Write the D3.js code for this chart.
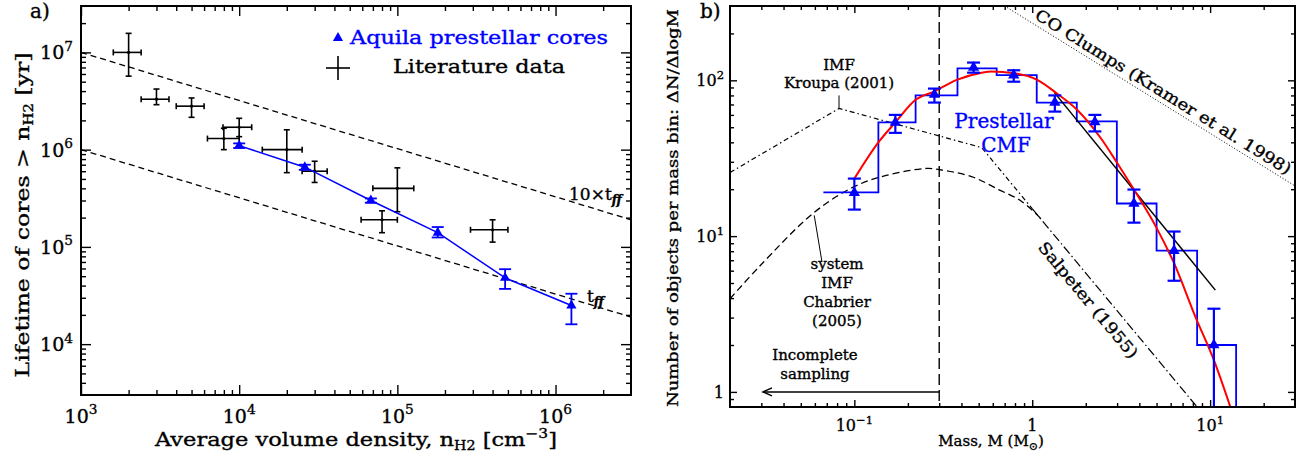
<!DOCTYPE html>
<html>
<head>
<meta charset="utf-8">
<script src="https://cdn.jsdelivr.net/npm/d3@7"></script>
<style>
  body { margin: 0; background: #fff; }
  text { font-family: "DejaVu Serif", serif; stroke-width: 0.35px; }
</style>
</head>
<body>
<svg id="fig" width="1313" height="459"></svg>
<script>
// ---------- panel a: lifetime vs density ----------
const litDensity   = [2e3, 3e3, 5e3, 8e3, 1e4, 2e4, 3e4, 1e5, 8e4, 4e5]
const litDensityLo = [1.6e3, 2.4e3, 4e3, 6.3e3, 7.9e3, 1.4e4, 2.5e4, 7e4, 5.9e4, 2.9e5]
const litDensityHi = [2.4e3, 3.6e3, 6e3, 1e4, 1.2e4, 2.5e4, 3.6e4, 1.27e5, 1e5, 5e5]
const litLife      = [1e7, 3.3e6, 2.8e6, 1.3e6, 1.7e6, 1e6, 6e5, 4e5, 1.9e5, 1.5e5]
const litLifeLo    = [5.7e6, 2.9e6, 2.15e6, 1e6, 1.36e6, 5.8e5, 4.6e5, 2.3e5, 1.4e5, 1.12e5]
const litLifeHi    = [1.57e7, 4.2e6, 3.4e6, 1.66e6, 2.1e6, 1.6e6, 7.6e5, 6.5e5, 2.35e5, 1.9e5]

const aqDensity = [1e4, 2.6e4, 6.8e4, 1.8e5, 4.8e5, 1.26e6]
const aqLife    = [1.1e6, 6.6e5, 3e5, 1.4e5, 4.8e4, 2.5e4]
const aqLifeLo  = [1.04e6, 6.2e5, 2.85e5, 1.25e5, 3.7e4, 1.6e4]
const aqLifeHi  = [1.16e6, 7e5, 3.15e5, 1.6e5, 5.9e4, 3.3e4]

const ffDensity = [1e3, 3e6]
const ffTime    = [1e6, 1.9e4]   // t_ff
const ff10Time  = [1e7, 1.9e5]   // 10 x t_ff

const aXTicks = [[1e3, "10", "3"], [1e4, "10", "4"], [1e5, "10", "5"], [1e6, "10", "6"]]
const aYTicks = [[1e4, "10", "4"], [1e5, "10", "5"], [1e6, "10", "6"], [1e7, "10", "7"]]

// ---------- panel b: mass function ----------
const binEdges  = [0.067, 0.1365, 0.221, 0.38, 0.631, 1.06, 1.78, 2.99, 5.0, 8.45, 14.0, 21]
const binCounts = [19.1, 53.7, 80, 119.5, 108, 72, 54.5, 16.2, 8.07, 2.0, 0]

const cmfMass = [0.1, 0.17, 0.282, 0.468, 0.787, 1.34, 2.25, 3.73, 6.27, 10.5]
const cmfN    = [19, 53.7, 81, 121, 108, 72, 54, 16.2, 8.07, 2.0]
const cmfLo   = [14.8, 46, 72, 112, 98, 63, 47, 12.2, 5.17, 0.8]
const cmfHi   = [23.4, 60, 88.5, 130, 116, 80, 60, 19.9, 10.7, 3.42]

const fitMass = [0.1, 0.1365, 0.17, 0.221, 0.282, 0.38, 0.52, 0.59, 0.79, 1.06, 1.37, 1.78, 2.46, 2.99, 3.73, 5.0, 6.27, 8.3, 10.5, 13]
const fitN    = [23.4, 40, 53.7, 75, 85, 101, 112, 114, 111, 101, 82.7, 65, 41.7, 29.7, 19.9, 11.3, 6.7, 3.0, 1.6, 0.8]

const plawMass = [1.33, 10.7]
const plawN    = [83.7, 4.5]

const kroupaMass = [0.02, 0.082, 0.52, 1.0]
const kroupaN    = [25.6, 66, 37, 15]

const chabMass = [0.02, 0.0292, 0.0595, 0.1, 0.151, 0.255, 0.3, 0.456, 0.647, 0.873, 1.13]
const chabN    = [3.96, 6.37, 14.2, 20.8, 24.5, 27.2, 26.7, 24.1, 19.9, 16.7, 12.8]

const salpMass = [1.0, 8.45]
const salpN    = [15, 0.8]

const coMass = [0.7, 30]
const coN    = [300, 21]

const completeMass = 0.3
const bXTicks = [[0.1, "10", "\u22121"], [1, "1", null], [10, "10", "1"]]
const bYTicks = [[1, "1", null], [10, "10", "1"], [100, "10", "2"]]

// ------------------------------------------------------------
const svg = d3.select("#fig")

const boxA = {left: 81, top: 6, right: 631, bottom: 395}
const boxB = {left: 730, top: 6, right: 1295, bottom: 407}

const xA = d3.scaleLog().domain([1e3, 3e6]).range([boxA.left, boxA.right])
const yA = d3.scaleLog().domain([3e3, 3e7]).range([boxA.bottom, boxA.top])
const xB = d3.scaleLog().domain([0.02, 30]).range([boxB.left, boxB.right])
const yB = d3.scaleLog().domain([0.8, 300]).range([boxB.bottom, boxB.top]).clamp(true)

function minorsFor(scale) {
  const [a, b] = scale.domain()
  const out = []
  for (let e = Math.floor(Math.log10(a)); e <= Math.ceil(Math.log10(b)); e++) {
    for (let m = 2; m <= 9; m++) {
      const v = m * Math.pow(10, e)
      if (v > a * 1.001 && v < b * 0.999) out.push(v)
    }
  }
  return out
}
function majorsFor(scale) {
  const [a, b] = scale.domain()
  const out = []
  for (let e = Math.ceil(Math.log10(a)); e <= Math.floor(Math.log10(b)); e++) out.push(Math.pow(10, e))
  return out
}

function drawFrame(g, x, y, box, major, minor) {
  const w = box.right - box.left, h = box.bottom - box.top
  const put = (axis, tr, vals, size) => {
    g.append("g").attr("transform", tr)
      .call(axis.tickValues(vals).tickSize(-size).tickFormat(""))
      .call(s => s.select(".domain").remove())
      .call(s => s.selectAll("line").attr("stroke", "#000").attr("stroke-width", 1.4))
  }
  const xs = [[majorsFor(x), major], [minorsFor(x), minor]]
  const ys = [[majorsFor(y), major], [minorsFor(y), minor]]
  xs.forEach(([v, s]) => {
    put(d3.axisBottom(x), `translate(0,${box.bottom})`, v, s)
    put(d3.axisTop(x), `translate(0,${box.top})`, v, s)
  })
  ys.forEach(([v, s]) => {
    put(d3.axisLeft(y), `translate(${box.left},0)`, v, s)
    put(d3.axisRight(y), `translate(${box.right},0)`, v, s)
  })
  g.append("rect").attr("x", box.left).attr("y", box.top).attr("width", w).attr("height", h)
    .attr("fill", "none").attr("stroke", "#000").attr("stroke-width", 2)
}

function powText(g, x, y, base, exp, size, anchor) {
  const t = g.append("text").attr("x", x).attr("y", y).attr("text-anchor", anchor)
    .style("font-size", size + "px").attr("fill", "#000")
  t.append("tspan").text(base)
  if (exp) t.append("tspan").attr("dy", -size * 0.45).style("font-size", (size * 0.72) + "px").text(exp)
  return t
}

function errLine(g, x1, y1, x2, y2, color, w) {
  g.append("line").attr("x1", x1).attr("y1", y1).attr("x2", x2).attr("y2", y2)
    .attr("stroke", color).attr("stroke-width", w)
}

// ================= PANEL A =================
const gA = svg.append("g")
const lineA = d3.line().x(d => xA(d[0])).y(d => yA(d[1]))

// free-fall lines
gA.append("path").datum(d3.zip(ffDensity, ff10Time)).attr("d", lineA)
  .attr("fill", "none").attr("stroke", "#000").attr("stroke-width", 1.3).attr("stroke-dasharray", "6,4")
gA.append("path").datum(d3.zip(ffDensity, ffTime)).attr("d", lineA)
  .attr("fill", "none").attr("stroke", "#000").attr("stroke-width", 1.3).attr("stroke-dasharray", "6,4")

// literature crosses
const cap = 3
litDensity.forEach((d, i) => {
  const cx = xA(d), cy = yA(litLife[i])
  const x1 = xA(litDensityLo[i]), x2 = xA(litDensityHi[i])
  const y1 = yA(litLifeHi[i]), y2 = yA(litLifeLo[i])
  errLine(gA, x1, cy, x2, cy, "#000", 1.6)
  errLine(gA, cx, y1, cx, y2, "#000", 1.6)
  errLine(gA, x1, cy - cap, x1, cy + cap, "#000", 1.6)
  errLine(gA, x2, cy - cap, x2, cy + cap, "#000", 1.6)
  errLine(gA, cx - cap, y1, cx + cap, y1, "#000", 1.6)
  errLine(gA, cx - cap, y2, cx + cap, y2, "#000", 1.6)
  gA.append("circle").attr("cx", cx).attr("cy", cy).attr("r", 1.6).attr("fill", "#000")
})

// Aquila cores
gA.append("path").datum(d3.zip(aqDensity, aqLife)).attr("d", lineA)
  .attr("fill", "none").attr("stroke", "#0000ff").attr("stroke-width", 1.5)
aqDensity.forEach((d, i) => {
  const cx = xA(d), y1 = yA(aqLifeHi[i]), y2 = yA(aqLifeLo[i])
  errLine(gA, cx, y1, cx, y2, "#0000ff", 1.8)
  errLine(gA, cx - 6, y1, cx + 6, y1, "#0000ff", 1.8)
  errLine(gA, cx - 6, y2, cx + 6, y2, "#0000ff", 1.8)
  gA.append("path").attr("d", d3.symbol(d3.symbolTriangle, 45)())
    .attr("transform", `translate(${cx},${yA(aqLife[i])})`).attr("fill", "#0000ff")
})

drawFrame(gA, xA, yA, boxA, 10, 5)

// tick labels
aXTicks.forEach(t => powText(gA, xA(t[0]), 423, t[1], t[2], 19, "middle"))
aYTicks.forEach(t => powText(gA, 73, yA(t[0]) + 7, t[1], t[2], 19, "end"))

// axis titles
const xtA = gA.append("text").attr("x", 356).attr("y", 446)
  .attr("text-anchor", "middle").style("font-size", "19px")
  .attr("textLength", 402).attr("lengthAdjust", "spacingAndGlyphs")
xtA.append("tspan").text("Average volume density, n")
xtA.append("tspan").attr("dy", 4).style("font-size", "12px").text("H2")
xtA.append("tspan").attr("dy", -4).text(" [cm")
xtA.append("tspan").attr("dy", -8).style("font-size", "13px").text("\u22123")
xtA.append("tspan").attr("dy", 8).text("]")

const ytA = gA.append("text").attr("transform", "translate(29,215) rotate(-90)")
  .attr("text-anchor", "middle").style("font-size", "19px")
  .attr("textLength", 325).attr("lengthAdjust", "spacingAndGlyphs")
ytA.append("tspan").text("Lifetime of cores > n")
ytA.append("tspan").attr("dy", 4).style("font-size", "12px").text("H2")
ytA.append("tspan").attr("dy", -4).text("  [yr]")

gA.append("text").attr("x", 30).attr("y", 18).style("font-size", "20px").text("a)")

// line labels
const ffl = gA.append("text").attr("x", 569).attr("y", 200).style("font-size", "17px")
ffl.append("tspan").text("10\u00d7t")
ffl.append("tspan").attr("dy", 4).style("font-size", "12px").style("font-style", "italic").style("font-weight", "bold").text("ff")
const ffs = gA.append("text").attr("x", 587).attr("y", 302).style("font-size", "17px")
ffs.append("tspan").text("t")
ffs.append("tspan").attr("dy", 4).style("font-size", "12px").style("font-style", "italic").style("font-weight", "bold").text("ff")

// legend
gA.append("path").attr("d", d3.symbol(d3.symbolTriangle, 45)()).attr("transform", "translate(338,38)").attr("fill", "#0000ff")
gA.append("text").attr("x", 350).attr("y", 44).style("font-size", "19px").attr("fill", "#0000ff")
  .attr("textLength", 258).attr("lengthAdjust", "spacingAndGlyphs").text("Aquila prestellar cores")
errLine(gA, 326, 68, 350, 68, "#000", 1.6)
errLine(gA, 338, 56, 338, 80, "#000", 1.6)
gA.append("text").attr("x", 393).attr("y", 73).style("font-size", "19px")
  .attr("textLength", 172).attr("lengthAdjust", "spacingAndGlyphs").text("Literature data")

// ================= PANEL B =================
const gB = svg.append("g")
svg.append("clipPath").attr("id", "clipB").append("rect")
  .attr("x", boxB.left).attr("y", boxB.top)
  .attr("width", boxB.right - boxB.left).attr("height", boxB.bottom - boxB.top)
const plotB = gB.append("g").attr("clip-path", "url(#clipB)")
const lineB = d3.line().x(d => xB(d[0])).y(d => yB(d[1]))

// completeness limit
plotB.append("line").attr("x1", xB(completeMass)).attr("x2", xB(completeMass))
  .attr("y1", boxB.top).attr("y2", boxB.bottom)
  .attr("stroke", "#000").attr("stroke-width", 1.4).attr("stroke-dasharray", "11,5")

// CO clumps
plotB.append("path").datum(d3.zip(coMass, coN)).attr("d", lineB)
  .attr("fill", "none").attr("stroke", "#000").attr("stroke-width", 1).attr("stroke-dasharray", "1,2")

// Kroupa
plotB.append("path").datum(d3.zip(kroupaMass, kroupaN)).attr("d", lineB)
  .attr("fill", "none").attr("stroke", "#000").attr("stroke-width", 1.2).attr("stroke-dasharray", "5,3,1.5,3")
// Chabrier
plotB.append("path").datum(d3.zip(chabMass, chabN))
  .attr("d", d3.line().x(d => xB(d[0])).y(d => yB(d[1])).curve(d3.curveCatmullRom))
  .attr("fill", "none").attr("stroke", "#000").attr("stroke-width", 1.3).attr("stroke-dasharray", "7,4")
// Salpeter
plotB.append("path").datum(d3.zip(salpMass, salpN)).attr("d", lineB)
  .attr("fill", "none").attr("stroke", "#000").attr("stroke-width", 1.2).attr("stroke-dasharray", "9,3,1.5,3")

// histogram
const steps = []
binCounts.forEach((c, i) => { steps.push([binEdges[i], c]); steps.push([binEdges[i + 1], c]) })
plotB.append("path").datum(steps).attr("d", lineB)
  .attr("fill", "none").attr("stroke", "#0000ff").attr("stroke-width", 1.8)

// power-law fit
plotB.append("path").datum(d3.zip(plawMass, plawN)).attr("d", lineB)
  .attr("fill", "none").attr("stroke", "#000").attr("stroke-width", 1.5)

// lognormal fit
plotB.append("path").datum(d3.zip(fitMass, fitN))
  .attr("d", d3.line().x(d => xB(d[0])).y(d => yB(d[1])).curve(d3.curveMonotoneX))
  .attr("fill", "none").attr("stroke", "#ff0000").attr("stroke-width", 2)

// CMF points
cmfMass.forEach((m, i) => {
  const cx = xB(m), y1 = yB(cmfHi[i]), y2 = yB(cmfLo[i])
  errLine(plotB, cx, y1, cx, y2, "#0000ff", 2.2)
  errLine(plotB, cx - 6.5, y1, cx + 6.5, y1, "#0000ff", 2.2)
  if (cmfLo[i] > 0.8) errLine(plotB, cx - 6.5, y2, cx + 6.5, y2, "#0000ff", 2.2)
  plotB.append("path").attr("d", d3.symbol(d3.symbolTriangle, 55)())
    .attr("transform", `translate(${cx},${yB(cmfN[i])})`).attr("fill", "#0000ff")
})

drawFrame(gB, xB, yB, boxB, 7, 4)

bXTicks.forEach(t => powText(gB, xB(t[0]), 431, t[1], t[2], 16, "middle"))
bYTicks.forEach(t => powText(gB, 724, yB(t[0]) + 6, t[1], t[2], 16, "end"))

// axis titles
const xtB = gB.append("text").attr("x", 991).attr("y", 446).attr("text-anchor", "middle").style("font-size", "15px")
xtB.append("tspan").text("Mass, M (M")
xtB.append("tspan").attr("dy", 4).style("font-size", "11px").text("\u2299")
xtB.append("tspan").attr("dy", -4).text(")")

gB.append("text").attr("transform", "translate(678,208) rotate(-90)").attr("text-anchor", "middle")
  .style("font-size", "15px").attr("textLength", 398).attr("lengthAdjust", "spacingAndGlyphs")
  .text("Number of objects per mass bin: \u0394N/\u0394logM")

gB.append("text").attr("x", 700).attr("y", 18).style("font-size", "20px").text("b)")

// annotations
const kx = xB(kroupaMass[1]), ky = yB(kroupaN[1])
errLine(gB, kx, ky - 13, kx, ky, "#000", 1)
gB.append("text").attr("x", kx).attr("y", 70).attr("text-anchor", "middle").style("font-size", "15px").text("IMF")
gB.append("text").attr("x", kx).attr("y", 88).attr("text-anchor", "middle").style("font-size", "15px").text("Kroupa (2001)")

errLine(gB, xB(chabMass[2]), yB(chabN[2]) + 3, 822, 262, "#000", 1)
;[["system", 269], ["IMF", 288], ["Chabrier", 307], ["(2005)", 326]].forEach(([s, yy]) =>
  gB.append("text").attr("x", 837).attr("y", yy).attr("text-anchor", "middle").style("font-size", "15px").text(s))

gB.append("text").attr("x", 815).attr("y", 360).attr("text-anchor", "middle").style("font-size", "15px").text("Incomplete")
gB.append("text").attr("x", 815).attr("y", 379).attr("text-anchor", "middle").style("font-size", "15px").text("sampling")
const ay = yB(1)
errLine(gB, xB(completeMass), ay, 763, ay, "#000", 1.5)
gB.append("path").attr("d", `M772,${ay - 4}L763,${ay}L772,${ay + 4}`).attr("fill", "none").attr("stroke", "#000").attr("stroke-width", 1.5)

gB.append("text").attr("x", 1004).attr("y", 128).attr("text-anchor", "middle").style("font-size", "20px").attr("fill", "#0000ff").text("Prestellar")
gB.append("text").attr("x", 1006).attr("y", 152).attr("text-anchor", "middle").style("font-size", "20px").attr("fill", "#0000ff").text("CMF")

// rotated labels along lines
function alongLabel(mass, n, along, offset, text, size, len) {
  const p0 = [xB(mass[0]), yB(n[0])], p1 = [xB(mass[1]), yB(n[1])]
  const ang = Math.atan2(p1[1] - p0[1], p1[0] - p0[0]) * 180 / Math.PI
  gB.append("text").attr("transform", `translate(${p0[0]},${p0[1]}) rotate(${ang})`)
    .attr("x", along).attr("y", offset).attr("text-anchor", "middle")
    .style("font-size", size + "px").attr("textLength", len).attr("lengthAdjust", "spacingAndGlyphs").text(text)
}
alongLabel(coMass, coN, 180, -5, "CO Clumps (Kramer et al. 1998)", 16, 298)
alongLabel(salpMass, salpN, 106, 21, "Salpeter (1955)", 16, 146)

// slightly heavier glyphs, like the original plot fonts
svg.selectAll("text").each(function () {
  const t = d3.select(this)
  t.attr("stroke", t.attr("fill") || "#000")
})
</script>
</body>
</html>
